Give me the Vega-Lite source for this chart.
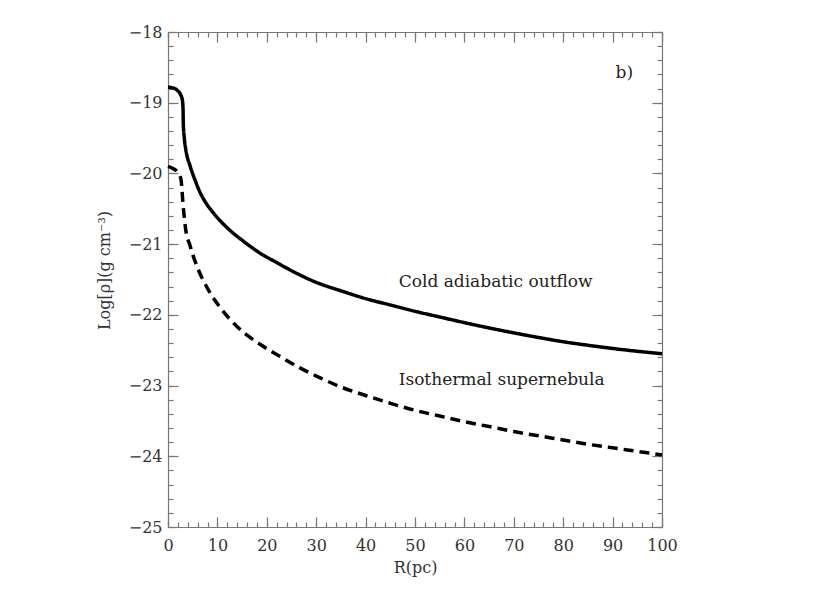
{
  "$schema": "https://vega.github.io/schema/vega-lite/v6.json",
  "width": 494,
  "height": 495,
  "autosize": {"type": "none"},
  "padding": {"left": 168, "top": 32, "right": 168, "bottom": 66},
  "background": "white",
  "config": {
    "view": {"stroke": null},
    "axis": {
      "grid": false,
      "domainColor": "#777",
      "tickColor": "#777",
      "domainWidth": 1.2,
      "tickWidth": 1.2,
      "labelFont": "DejaVu Serif",
      "labelFontSize": 16,
      "labelColor": "#333",
      "labelFlush": false,
      "titleFont": "DejaVu Serif",
      "titleFontSize": 16,
      "titleFontWeight": "normal",
      "titleColor": "#333"
    }
  },
  "datasets": {
    "curves": [
      {"series": "Cold adiabatic outflow", "R": 0, "logrho": -18.78},
      {"series": "Cold adiabatic outflow", "R": 1, "logrho": -18.79},
      {"series": "Cold adiabatic outflow", "R": 1.8, "logrho": -18.82},
      {"series": "Cold adiabatic outflow", "R": 2.5, "logrho": -18.88},
      {"series": "Cold adiabatic outflow", "R": 2.9, "logrho": -18.96},
      {"series": "Cold adiabatic outflow", "R": 3.05, "logrho": -19.1},
      {"series": "Cold adiabatic outflow", "R": 3.1, "logrho": -19.3},
      {"series": "Cold adiabatic outflow", "R": 3.3, "logrho": -19.5},
      {"series": "Cold adiabatic outflow", "R": 3.6, "logrho": -19.66},
      {"series": "Cold adiabatic outflow", "R": 4.5, "logrho": -19.9},
      {"series": "Cold adiabatic outflow", "R": 5.5, "logrho": -20.1},
      {"series": "Cold adiabatic outflow", "R": 6.5, "logrho": -20.27},
      {"series": "Cold adiabatic outflow", "R": 8, "logrho": -20.45},
      {"series": "Cold adiabatic outflow", "R": 9.2, "logrho": -20.56},
      {"series": "Cold adiabatic outflow", "R": 12, "logrho": -20.77},
      {"series": "Cold adiabatic outflow", "R": 15.3, "logrho": -20.96},
      {"series": "Cold adiabatic outflow", "R": 18.7, "logrho": -21.13},
      {"series": "Cold adiabatic outflow", "R": 22, "logrho": -21.26},
      {"series": "Cold adiabatic outflow", "R": 25.4, "logrho": -21.39},
      {"series": "Cold adiabatic outflow", "R": 30, "logrho": -21.54},
      {"series": "Cold adiabatic outflow", "R": 35, "logrho": -21.66},
      {"series": "Cold adiabatic outflow", "R": 40, "logrho": -21.77},
      {"series": "Cold adiabatic outflow", "R": 45, "logrho": -21.86},
      {"series": "Cold adiabatic outflow", "R": 50, "logrho": -21.95},
      {"series": "Cold adiabatic outflow", "R": 55, "logrho": -22.03},
      {"series": "Cold adiabatic outflow", "R": 60, "logrho": -22.11},
      {"series": "Cold adiabatic outflow", "R": 65, "logrho": -22.185},
      {"series": "Cold adiabatic outflow", "R": 70, "logrho": -22.255},
      {"series": "Cold adiabatic outflow", "R": 75, "logrho": -22.32},
      {"series": "Cold adiabatic outflow", "R": 80, "logrho": -22.38},
      {"series": "Cold adiabatic outflow", "R": 85, "logrho": -22.43},
      {"series": "Cold adiabatic outflow", "R": 90, "logrho": -22.475},
      {"series": "Cold adiabatic outflow", "R": 95, "logrho": -22.515},
      {"series": "Cold adiabatic outflow", "R": 100, "logrho": -22.55},
      {"series": "Isothermal supernebula", "R": 0, "logrho": -19.9},
      {"series": "Isothermal supernebula", "R": 1, "logrho": -19.93},
      {"series": "Isothermal supernebula", "R": 1.8, "logrho": -19.97},
      {"series": "Isothermal supernebula", "R": 2.4, "logrho": -20.03},
      {"series": "Isothermal supernebula", "R": 2.7, "logrho": -20.12},
      {"series": "Isothermal supernebula", "R": 3.0, "logrho": -20.4},
      {"series": "Isothermal supernebula", "R": 3.5, "logrho": -20.75},
      {"series": "Isothermal supernebula", "R": 4.5, "logrho": -21.03},
      {"series": "Isothermal supernebula", "R": 5.9, "logrho": -21.32},
      {"series": "Isothermal supernebula", "R": 8.2, "logrho": -21.65},
      {"series": "Isothermal supernebula", "R": 10.6, "logrho": -21.9},
      {"series": "Isothermal supernebula", "R": 13.9, "logrho": -22.16},
      {"series": "Isothermal supernebula", "R": 18.7, "logrho": -22.42},
      {"series": "Isothermal supernebula", "R": 22, "logrho": -22.56},
      {"series": "Isothermal supernebula", "R": 26.7, "logrho": -22.75},
      {"series": "Isothermal supernebula", "R": 30.8, "logrho": -22.89},
      {"series": "Isothermal supernebula", "R": 35, "logrho": -23.02},
      {"series": "Isothermal supernebula", "R": 40, "logrho": -23.14},
      {"series": "Isothermal supernebula", "R": 45, "logrho": -23.25},
      {"series": "Isothermal supernebula", "R": 50, "logrho": -23.35},
      {"series": "Isothermal supernebula", "R": 55, "logrho": -23.43},
      {"series": "Isothermal supernebula", "R": 60, "logrho": -23.51},
      {"series": "Isothermal supernebula", "R": 65, "logrho": -23.58},
      {"series": "Isothermal supernebula", "R": 70, "logrho": -23.65},
      {"series": "Isothermal supernebula", "R": 75, "logrho": -23.71},
      {"series": "Isothermal supernebula", "R": 80, "logrho": -23.77},
      {"series": "Isothermal supernebula", "R": 85, "logrho": -23.83},
      {"series": "Isothermal supernebula", "R": 90, "logrho": -23.88},
      {"series": "Isothermal supernebula", "R": 95, "logrho": -23.93},
      {"series": "Isothermal supernebula", "R": 100, "logrho": -23.98}
    ],
    "notes": [
      {"label": "Cold adiabatic outflow", "R": 46.7, "logrho": -21.53},
      {"label": "Isothermal supernebula", "R": 46.7, "logrho": -22.92},
      {"label": "b)", "R": 90.6, "logrho": -18.58}
    ]
  },
  "layer": [
    {
      "data": {"name": "curves"},
      "mark": {"type": "line", "color": "black", "strokeWidth": 3.5, "interpolate": "monotone"},
      "encoding": {
        "x": {
          "field": "R", "type": "quantitative",
          "scale": {"domain": [0, 100], "nice": false},
          "axis": {
            "orient": "bottom",
            "values": [0, 10, 20, 30, 40, 50, 60, 70, 80, 90, 100],
            "format": "d",
            "tickSize": -10,
            "labelPadding": 20,
            "title": "R(pc)",
            "titlePadding": 6
          }
        },
        "y": {
          "field": "logrho", "type": "quantitative",
          "scale": {"domain": [-25, -18], "nice": false, "zero": false},
          "axis": {
            "orient": "left",
            "values": [-25, -24, -23, -22, -21, -20, -19, -18],
            "format": "d",
            "tickSize": -10,
            "labelPadding": 16,
            "title": "Log[ρ](g cm⁻³)",
            "titlePadding": 16,
            "titleY": 238
          }
        },
        "strokeDash": {
          "field": "series", "type": "nominal",
          "scale": {"domain": ["Cold adiabatic outflow", "Isothermal supernebula"], "range": [[1, 0], [10, 6]]},
          "legend": null
        }
      }
    },
    {
      "data": {"name": "curves"},
      "mark": {"type": "point", "opacity": 0},
      "encoding": {
        "x": {
          "field": "R", "type": "quantitative",
          "scale": {"domain": [0, 100], "nice": false},
          "axis": {
            "orient": "bottom", "domain": false, "labels": false, "title": null, "tickSize": -5,
            "values": [0,2,4,6,8,10,12,14,16,18,20,22,24,26,28,30,32,34,36,38,40,42,44,46,48,50,52,54,56,58,60,62,64,66,68,70,72,74,76,78,80,82,84,86,88,90,92,94,96,98,100]
          }
        },
        "y": {
          "field": "logrho", "type": "quantitative",
          "scale": {"domain": [-25, -18], "nice": false, "zero": false},
          "axis": {
            "orient": "left", "domain": false, "labels": false, "title": null, "tickSize": -5,
            "values": [-25,-24.8,-24.6,-24.4,-24.2,-24,-23.8,-23.6,-23.4,-23.2,-23,-22.8,-22.6,-22.4,-22.2,-22,-21.8,-21.6,-21.4,-21.2,-21,-20.8,-20.6,-20.4,-20.2,-20,-19.8,-19.6,-19.4,-19.2,-19,-18.8,-18.6,-18.4,-18.2,-18]
          }
        }
      }
    },
    {
      "data": {"name": "curves"},
      "mark": {"type": "point", "opacity": 0},
      "encoding": {
        "x": {
          "field": "R", "type": "quantitative",
          "scale": {"domain": [0, 100], "nice": false},
          "axis": {
            "orient": "top", "labels": false, "title": null, "tickSize": -10,
            "values": [0, 10, 20, 30, 40, 50, 60, 70, 80, 90, 100]
          }
        },
        "y": {
          "field": "logrho", "type": "quantitative",
          "scale": {"domain": [-25, -18], "nice": false, "zero": false},
          "axis": {
            "orient": "right", "labels": false, "title": null, "tickSize": -10,
            "values": [-25, -24, -23, -22, -21, -20, -19, -18]
          }
        }
      }
    },
    {
      "data": {"name": "curves"},
      "mark": {"type": "point", "opacity": 0},
      "encoding": {
        "x": {
          "field": "R", "type": "quantitative",
          "scale": {"domain": [0, 100], "nice": false},
          "axis": {
            "orient": "top", "domain": false, "labels": false, "title": null, "tickSize": -5,
            "values": [0,2,4,6,8,10,12,14,16,18,20,22,24,26,28,30,32,34,36,38,40,42,44,46,48,50,52,54,56,58,60,62,64,66,68,70,72,74,76,78,80,82,84,86,88,90,92,94,96,98,100]
          }
        },
        "y": {
          "field": "logrho", "type": "quantitative",
          "scale": {"domain": [-25, -18], "nice": false, "zero": false},
          "axis": {
            "orient": "right", "domain": false, "labels": false, "title": null, "tickSize": -5,
            "values": [-25,-24.8,-24.6,-24.4,-24.2,-24,-23.8,-23.6,-23.4,-23.2,-23,-22.8,-22.6,-22.4,-22.2,-22,-21.8,-21.6,-21.4,-21.2,-21,-20.8,-20.6,-20.4,-20.2,-20,-19.8,-19.6,-19.4,-19.2,-19,-18.8,-18.6,-18.4,-18.2,-18]
          }
        }
      }
    },
    {
      "data": {"name": "notes"},
      "mark": {"type": "text", "font": "DejaVu Serif", "fontSize": 17, "color": "#222", "baseline": "middle", "align": "left"},
      "encoding": {
        "x": {"field": "R", "type": "quantitative", "scale": {"domain": [0, 100], "nice": false}, "axis": null},
        "y": {"field": "logrho", "type": "quantitative", "scale": {"domain": [-25, -18], "nice": false, "zero": false}, "axis": null},
        "text": {"field": "label"}
      }
    }
  ],
  "resolve": {"axis": {"x": "independent", "y": "independent"}}
}
